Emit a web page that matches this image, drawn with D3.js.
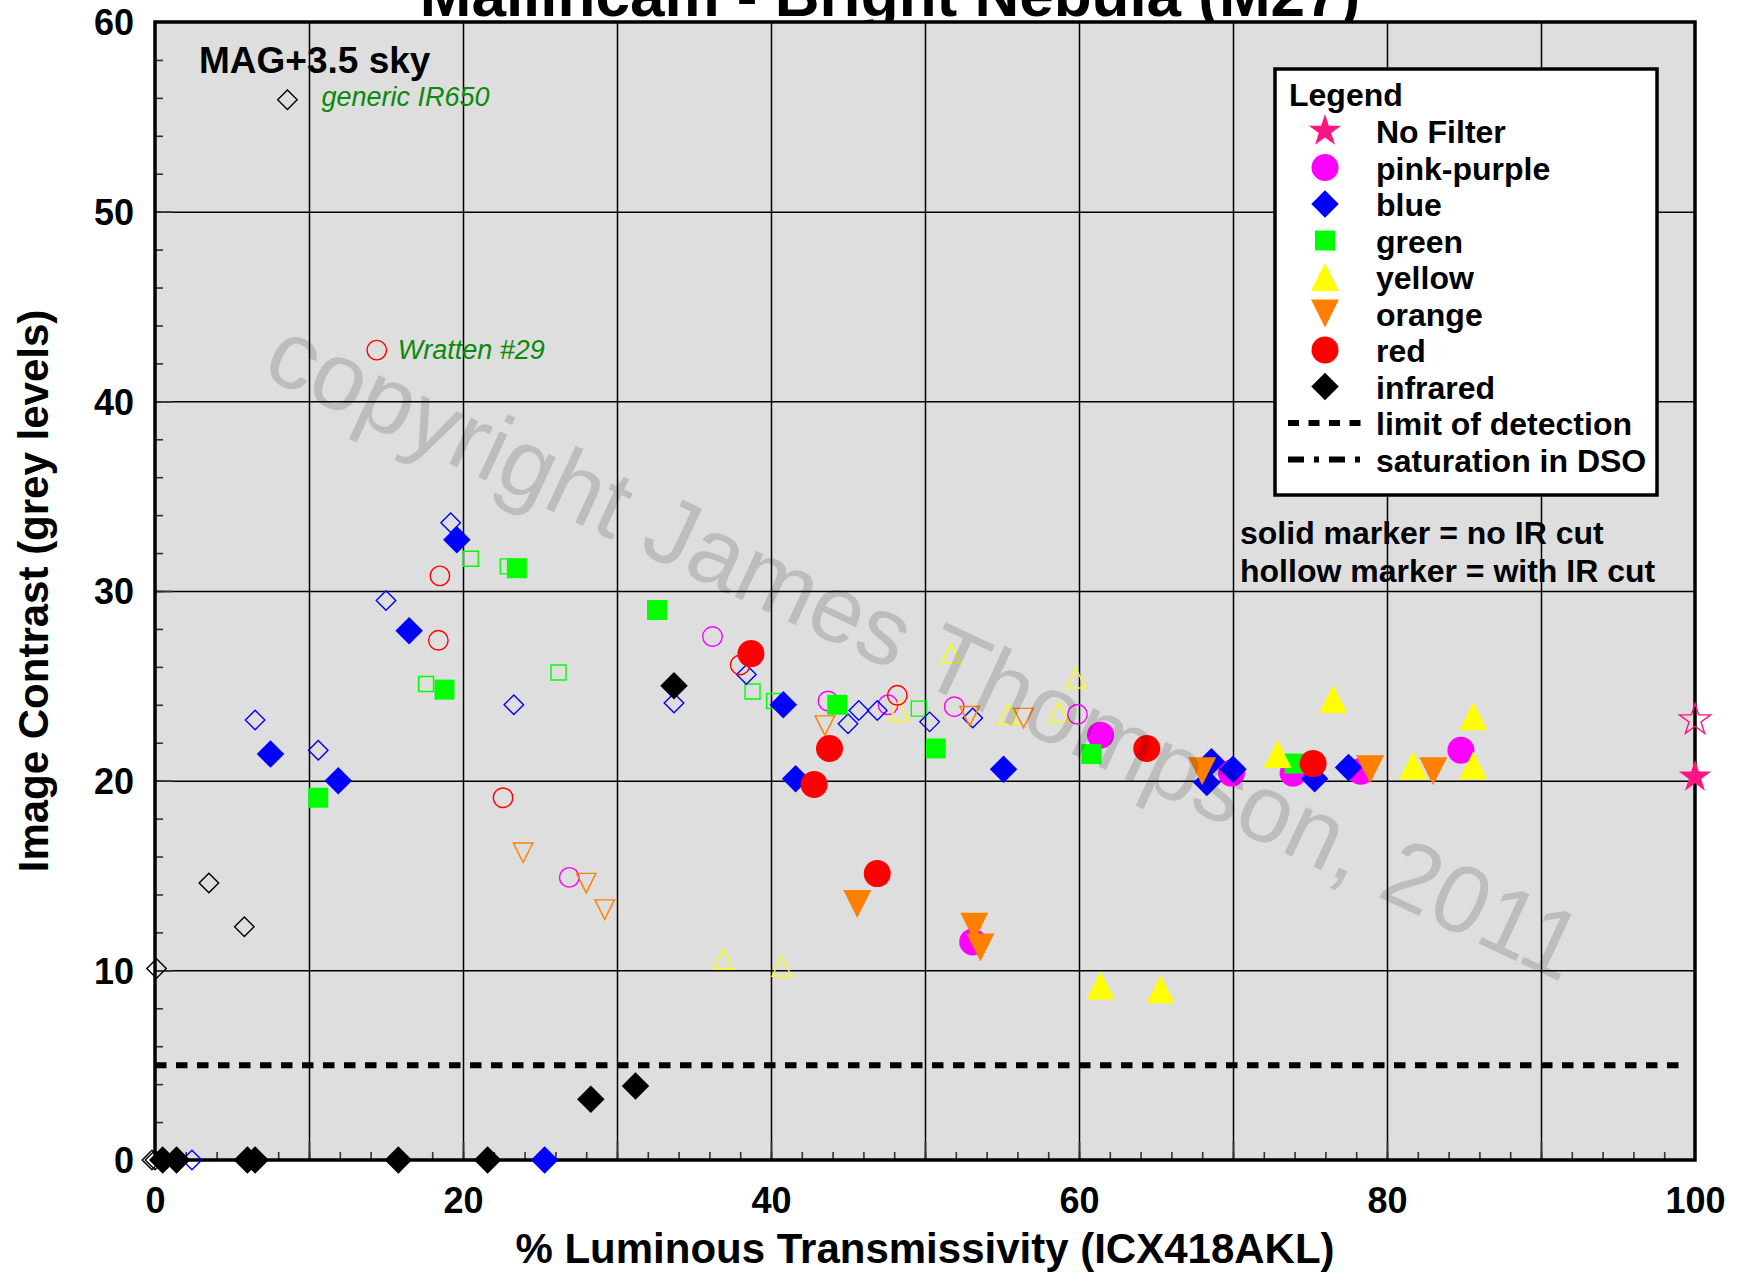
<!DOCTYPE html>
<html>
<head>
<meta charset="utf-8">
<script src="https://cdn.jsdelivr.net/npm/d3@7"></script>
<style>
body { margin: 0; background: #fff; }
svg { display: block; font-family: "Liberation Sans", Arial, Helvetica, sans-serif; }
</style>
</head>
<body>
<svg id="chart"></svg>
<script>
var W = 1739, H = 1274;
var margin = { top: 22, right: 44, bottom: 114, left: 155 };
var width = W - margin.left - margin.right;
var height = H - margin.top - margin.bottom;

// data: [% luminous transmissivity, image contrast]
// solid = no IR cut, hollow = with IR cut
var noFilterSolid = [[100, 20.2]];
var noFilterHollow = [[100, 23.2]];

var pinkSolid = [[61.4, 22.4], [53.1, 11.5], [69.9, 20.4], [73.9, 20.4], [78.3, 20.5], [84.8, 21.6]];
var pinkHollow = [[26.9, 14.9], [36.2, 27.6], [43.7, 24.2], [47.6, 24.0], [51.9, 23.9], [59.9, 23.5]];

var blueSolid = [[7.5, 21.4], [11.9, 20.0], [16.5, 27.9], [19.6, 32.7], [25.3, 0], [40.8, 24.0], [41.6, 20.1],
                 [55.1, 20.6], [68.6, 21.0], [68.3, 19.9], [70.0, 20.6], [75.3, 20.1], [77.5, 20.7]];
var blueHollow = [[2.4, 0], [6.5, 23.2], [10.6, 21.6], [15.0, 29.5], [19.2, 33.6], [23.3, 24.0], [33.7, 24.1],
                  [38.4, 25.6], [45.0, 23.0], [45.7, 23.7], [46.9, 23.7], [50.3, 23.1], [53.1, 23.3]];

var greenSolid = [[10.6, 19.1], [18.8, 24.8], [23.5, 31.2], [32.6, 29.0], [44.3, 24.0], [50.7, 21.7], [60.8, 21.4], [74.0, 20.9]];
var greenHollow = [[17.6, 25.1], [20.5, 31.7], [22.9, 31.3], [26.2, 25.7], [38.8, 24.7], [40.2, 24.2], [49.6, 23.8]];

var yellowSolid = [[61.4, 9.2], [65.3, 9.0], [72.9, 21.4], [76.5, 24.3], [81.7, 20.8], [85.6, 23.4], [85.6, 20.8]];
var yellowHollow = [[36.9, 10.6], [40.7, 10.2], [48.3, 23.7], [51.7, 26.7], [55.4, 23.5], [58.7, 23.6], [59.8, 25.4]];

var orangeSolid = [[45.6, 13.5], [53.2, 12.3], [53.6, 11.2], [68.0, 20.5], [78.9, 20.6], [83.0, 20.5]];
var orangeHollow = [[23.9, 16.2], [28.0, 14.6], [29.2, 13.2], [43.5, 22.9], [52.9, 23.4], [56.4, 23.3]];

var redSolid = [[38.7, 26.7], [42.8, 19.8], [43.8, 21.7], [46.9, 15.1], [64.4, 21.7], [75.2, 20.9]];
var redHollow = [[14.4, 42.7], [18.4, 27.4], [18.5, 30.8], [22.6, 19.1], [38.0, 26.1], [48.2, 24.5]];

var infraredSolid = [[0.5, 0], [1.4, 0], [6.0, 0], [6.5, 0], [15.8, 0], [21.6, 0], [28.3, 3.2], [31.2, 3.9], [33.7, 25.0]];
var infraredHollow = [[-0.2, 0], [0, 0], [0.1, 10.1], [3.5, 14.6], [5.8, 12.3], [8.6, 55.9]];

var legendNames = ["No Filter", "pink-purple", "blue", "green", "yellow", "orange", "red", "infrared"];
var legendColors = ["#ff1482", "#ff00ff", "#0000ff", "#00ff00", "#ffff00", "#ff8000", "#ff0000", "#000000"];
var legendShapes = ["star", "circle", "diamond", "square", "triangleUp", "triangleDown", "circle", "diamond"];
var solidData = [noFilterSolid, pinkSolid, blueSolid, greenSolid, yellowSolid, orangeSolid, redSolid, infraredSolid];
var hollowData = [noFilterHollow, pinkHollow, blueHollow, greenHollow, yellowHollow, orangeHollow, redHollow, infraredHollow];
var drawOrder = [1, 3, 2, 4, 6, 5, 7, 0];

var limitOfDetection = 5;
var xTickLabels = [0, 20, 40, 60, 80, 100];
var yTickLabels = [0, 10, 20, 30, 40, 50, 60];

// marker shapes, size = bounding width squared
var shapes = {
    circle: { draw: function (c, s) { var a = Math.sqrt(s) / 2; c.moveTo(a, 0); c.arc(0, 0, a, 0, 2 * Math.PI); } },
    diamond: { draw: function (c, s) { var a = Math.sqrt(s) / 2; c.moveTo(0, -a); c.lineTo(a, 0); c.lineTo(0, a); c.lineTo(-a, 0); c.closePath(); } },
    square: { draw: function (c, s) { var a = Math.sqrt(s) / 2; c.rect(-a, -a, 2 * a, 2 * a); } },
    triangleUp: { draw: function (c, s) { var a = Math.sqrt(s) / 2; c.moveTo(0, -a); c.lineTo(a, a); c.lineTo(-a, a); c.closePath(); } },
    triangleDown: { draw: function (c, s) { var a = Math.sqrt(s) / 2; c.moveTo(0, a); c.lineTo(a, -a); c.lineTo(-a, -a); c.closePath(); } },
    star: { draw: function (c, s) { var a = Math.sqrt(s) / 2; d3.symbolStar.draw(c, a * a / 0.8908130915292852); } }
};
var solidSize = { circle: 27, diamond: 27.5, square: 20, triangleUp: 28, triangleDown: 28, star: 34 };
var hollowSize = { circle: 19.5, diamond: 19.5, square: 15, triangleUp: 19.5, triangleDown: 19.5, star: 33 };

function marker(shape, d) {
    return d3.symbol().type(shapes[shape]).size(d * d)();
}

var svg = d3.select("#chart")
    .attr("width", W)
    .attr("height", H);

svg.append("rect").attr("width", W).attr("height", H).attr("fill", "#fff");

// title (runs off the top of the picture)
svg.append("text")
    .attr("x", 890)
    .attr("y", 16)
    .attr("text-anchor", "middle")
    .style("font-size", "62px")
    .style("font-weight", "bold")
    .text("Mallincam - Bright Nebula (M27)");

var chart = svg.append("g")
    .attr("transform", "translate(" + margin.left + "," + margin.top + ")");

var x = d3.scaleLinear().domain([0, 100]).range([0, width]);
var y = d3.scaleLinear().domain([0, 60]).range([height, 0]);

chart.append("rect")
    .attr("width", width)
    .attr("height", height)
    .attr("fill", "#dedede");

// grid
chart.append("g")
    .attr("transform", "translate(0," + height + ")")
    .call(d3.axisBottom(x).tickValues(d3.range(10, 100, 10)).tickSize(-height).tickFormat(""))
    .call(function (g) { g.select(".domain").remove(); g.selectAll("line").attr("stroke", "#000").attr("stroke-width", 1.5); });

chart.append("g")
    .call(d3.axisLeft(y).tickValues(d3.range(10, 60, 10)).tickSize(-width).tickFormat(""))
    .call(function (g) { g.select(".domain").remove(); g.selectAll("line").attr("stroke", "#000").attr("stroke-width", 1.5); });

// minor + major ticks, inside the frame
function ticks(axis, vals, len, tr) {
    chart.append("g")
        .attr("transform", tr || null)
        .call(axis.tickValues(vals).tickSize(-len).tickFormat(""))
        .call(function (g) { g.select(".domain").remove(); g.selectAll("line").attr("stroke", "#333").attr("stroke-width", 1.6); });
}
ticks(d3.axisBottom(x), d3.range(2, 100, 2), 8, "translate(0," + height + ")");
ticks(d3.axisBottom(x), d3.range(10, 100, 10), 18, "translate(0," + height + ")");
ticks(d3.axisLeft(y), d3.range(2, 60, 2), 8);
ticks(d3.axisLeft(y), d3.range(10, 60, 10), 18);

// tick labels
chart.append("g")
    .attr("transform", "translate(0," + height + ")")
    .call(d3.axisBottom(x).tickValues(xTickLabels).tickSize(0).tickPadding(27))
    .call(function (g) {
        g.select(".domain").remove();
        g.selectAll("text").attr("fill", "#000").style("font-size", "36px").style("font-weight", "bold")
            .style("font-family", "'Liberation Sans', Arial, sans-serif");
    });

chart.append("g")
    .call(d3.axisLeft(y).tickValues(yTickLabels).tickSize(0).tickPadding(21))
    .call(function (g) {
        g.select(".domain").remove();
        g.selectAll("text").attr("fill", "#000").attr("dy", "0.36em").style("font-size", "36px").style("font-weight", "bold")
            .style("font-family", "'Liberation Sans', Arial, sans-serif");
    });

// axis titles
svg.append("text")
    .attr("x", margin.left + width / 2)
    .attr("y", 1263)
    .attr("text-anchor", "middle")
    .style("font-size", "42px")
    .style("font-weight", "bold")
    .text("% Luminous Transmissivity (ICX418AKL)");

svg.append("text")
    .attr("transform", "translate(48," + (margin.top + height / 2) + ") rotate(-90)")
    .attr("text-anchor", "middle")
    .style("font-size", "42px")
    .style("font-weight", "bold")
    .text("Image Contrast (grey levels)");

// limit of detection
chart.append("line")
    .attr("x1", x(0)).attr("x2", x(99.5))
    .attr("y1", y(limitOfDetection)).attr("y2", y(limitOfDetection))
    .attr("stroke", "#000")
    .attr("stroke-width", 6)
    .attr("stroke-dasharray", "11.5,9.5");

// frame
chart.append("rect")
    .attr("width", width)
    .attr("height", height)
    .attr("fill", "none")
    .attr("stroke", "#000")
    .attr("stroke-width", 3.5);

// hollow markers first, then solid markers
drawOrder.forEach(function (i) {
    chart.append("g").selectAll("path")
        .data(hollowData[i])
        .enter().append("path")
        .attr("transform", function (d) { return "translate(" + x(d[0]) + "," + y(d[1]) + ")"; })
        .attr("d", marker(legendShapes[i], hollowSize[legendShapes[i]]))
        .attr("fill", "none")
        .attr("stroke", legendColors[i])
        .attr("stroke-width", 1.4);
});
drawOrder.forEach(function (i) {
    chart.append("g").selectAll("path")
        .data(solidData[i])
        .enter().append("path")
        .attr("transform", function (d) { return "translate(" + x(d[0]) + "," + y(d[1]) + ")"; })
        .attr("d", marker(legendShapes[i], solidSize[legendShapes[i]]))
        .attr("fill", legendColors[i]);
});

// annotations
chart.append("text")
    .attr("x", 44).attr("y", 51)
    .style("font-size", "37px").style("font-weight", "bold")
    .text("MAG+3.5 sky");

chart.append("text")
    .attr("x", x(8.6) + 34).attr("y", y(55.9) + 6)
    .attr("fill", "#0a8a0a")
    .style("font-size", "27px").style("font-style", "italic")
    .text("generic IR650");

chart.append("text")
    .attr("x", x(14.4) + 21).attr("y", y(42.7) + 9)
    .attr("fill", "#0a8a0a")
    .style("font-size", "27px").style("font-style", "italic")
    .text("Wratten #29");

chart.append("text")
    .attr("x", 1085).attr("y", 522)
    .style("font-size", "32px").style("font-weight", "bold")
    .text("solid marker = no IR cut");
chart.append("text")
    .attr("x", 1085).attr("y", 560)
    .style("font-size", "32px").style("font-weight", "bold")
    .text("hollow marker = with IR cut");

// watermark
svg.append("text")
    .attr("transform", "translate(911,679) rotate(25)")
    .attr("text-anchor", "middle")
    .attr("fill", "#000")
    .attr("fill-opacity", 0.15)
    .style("font-size", "96px")
    .text("copyright James Thompson, 2011");

// legend
var legend = svg.append("g").attr("transform", "translate(1275,69)");
legend.append("rect")
    .attr("width", 382).attr("height", 426)
    .attr("fill", "#fff")
    .attr("stroke", "#000")
    .attr("stroke-width", 3.5);
legend.append("text")
    .attr("x", 14).attr("y", 37)
    .style("font-size", "32px").style("font-weight", "bold")
    .text("Legend");

var rowY = function (k) { return 74 + k * 36.5; };
legendNames.forEach(function (name, k) {
    legend.append("path")
        .attr("transform", "translate(50," + (rowY(k) - 12) + ")")
        .attr("d", marker(legendShapes[k], solidSize[legendShapes[k]]))
        .attr("fill", legendColors[k]);
    legend.append("text")
        .attr("x", 101).attr("y", rowY(k))
        .style("font-size", "32px").style("font-weight", "bold")
        .text(name);
});

var lineNames = ["limit of detection", "saturation in DSO"];
var lineDash = ["11,9.5", "16,10,5,10"];
lineNames.forEach(function (name, j) {
    var k = legendNames.length + j;
    legend.append("line")
        .attr("x1", 13).attr("x2", 87)
        .attr("y1", rowY(k) - 12).attr("y2", rowY(k) - 12)
        .attr("stroke", "#000")
        .attr("stroke-width", 6)
        .attr("stroke-dasharray", lineDash[j]);
    legend.append("text")
        .attr("x", 101).attr("y", rowY(k))
        .style("font-size", "32px").style("font-weight", "bold")
        .text(name);
});
</script>
</body>
</html>
